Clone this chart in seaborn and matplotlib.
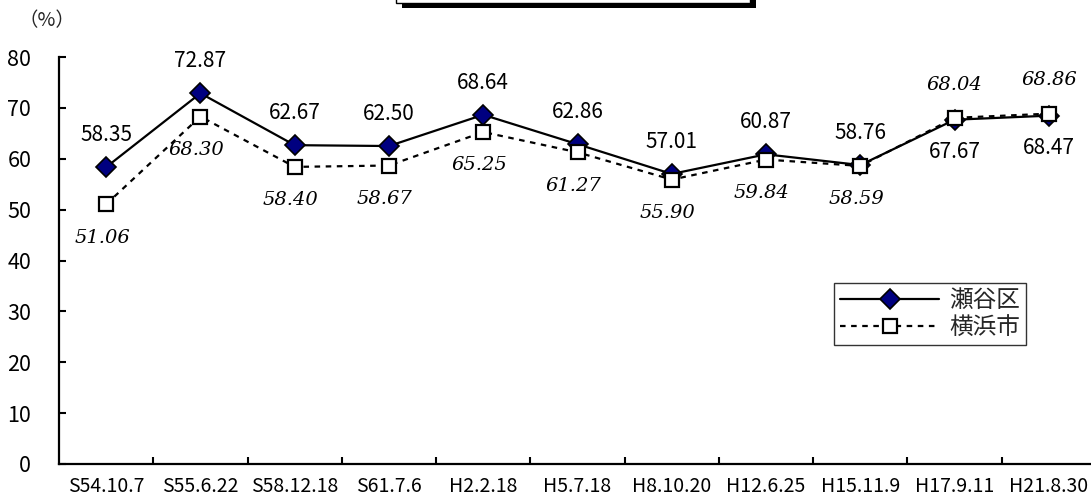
import numpy as np
import pandas as pd
import matplotlib
matplotlib.use("Agg")
import matplotlib.pyplot as plt
import seaborn as sns
from matplotlib.patches import Rectangle

# ---- data ----
categories = ["S54.10.7", "S55.6.22", "S58.12.18", "S61.7.6", "H2.2.18", "H5.7.18",
              "H8.10.20", "H12.6.25", "H15.11.9", "H17.9.11", "H21.8.30"]
seya = [58.35, 72.87, 62.67, 62.50, 68.64, 62.86, 57.01, 60.87, 58.76, 67.67, 68.47]
yokohama = [51.06, 68.30, 58.40, 58.67, 65.25, 61.27, 55.90, 59.84, 58.59, 68.04, 68.86]
series_names = ["瀬谷区", "横浜市"]
yticks = [0, 10, 20, 30, 40, 50, 60, 70, 80]
unit_label = "（%）"

# label placement (style): +1 above, -1 below
seya_side = [1, 1, 1, 1, 1, 1, 1, 1, 1, -1, -1]
yoko_side = [-1, -1, -1, -1, -1, -1, -1, -1, -1, 1, 1]

sns.set_theme(style="white")
plt.rcParams["font.family"] = ["Noto Sans CJK JP", "DejaVu Sans"]

W, H = 1091, 500
fig = plt.figure(figsize=(W / 100, H / 100), dpi=100)
ax = fig.add_axes([59 / W, 36 / H, 1037 / W, 407 / H])

x = np.arange(len(categories))
df = pd.DataFrame({"x": x, "seya": seya, "yoko": yokohama})

sns.lineplot(data=df, x="x", y="seya", ax=ax, color="black", lw=1.6,
             marker="D", markersize=10.5, markerfacecolor="#000080",
             markeredgecolor="black", markeredgewidth=1.2, label=series_names[0])
sns.lineplot(data=df, x="x", y="yoko", ax=ax, color="black", lw=1.6,
             linestyle=(0, (2.5, 2.5)), marker="s", markersize=10,
             markerfacecolor="white", markeredgecolor="black",
             markeredgewidth=1.6, label=series_names[1])

# data labels
for xi, v, s in zip(x, seya, seya_side):
    ax.annotate(f"{v:.2f}", (xi, v), xytext=(0, 23 * s), textcoords="offset points",
                ha="center", va="center", fontsize=15, color="black")
for xi, v, s in zip(x, yokohama, yoko_side):
    ax.annotate(f"{v:.2f}", (xi, v), xytext=(-3 if s < 0 else 0, 24 * s),
                textcoords="offset points", ha="center", va="center",
                fontsize=14, fontstyle="italic", family="DejaVu Serif", color="black")

ax.set_xlim(-0.5, len(categories) - 0.5)
ax.set_ylim(0, 80)
ax.set_yticks(yticks)
ax.set_yticklabels([str(t) for t in yticks])
ax.set_xticks(x)
ax.set_xticklabels(categories)
ax.set_xticks(np.arange(len(categories)) + 0.5, minor=True)
ax.set_xlabel("")
ax.set_ylabel("")

for side in ["top", "right"]:
    ax.spines[side].set_visible(False)
for side in ["left", "bottom"]:
    ax.spines[side].set_color("black")
    ax.spines[side].set_linewidth(1.6)

ax.tick_params(axis="y", which="major", direction="in", length=5, width=1.5,
               pad=20, labelsize=15.5, colors="black", left=True)
ax.tick_params(axis="x", which="major", length=0, pad=9, labelsize=14, colors="black")
ax.tick_params(axis="x", which="minor", direction="in", length=5, width=1.5,
               bottom=True, colors="black")
ax.grid(False)

fig.text(47 / W, 1 - 21 / H, unit_label, ha="center", va="center", fontsize=14)

# legend
leg = ax.legend(loc="center", bbox_to_anchor=(930 / W, 1 - 314 / H),
                bbox_transform=fig.transFigure, frameon=True, fancybox=False,
                edgecolor="black", fontsize=17, handlelength=4.2,
                borderpad=0.25, labelspacing=0.15, handletextpad=0.4,
                borderaxespad=0)
leg.get_frame().set_linewidth(1.0)
leg.get_texts()[1].set_fontstyle("italic")

# cut-off title box at top
fig.patches.append(Rectangle((402 / W, 1 - 7.5 / H), (756 - 402) / W, 20 / H,
                             transform=fig.transFigure, facecolor="black",
                             edgecolor="none", zorder=5))
fig.patches.append(Rectangle((396 / W, 1 - 2.5 / H), (750 - 396) / W, 20 / H,
                             transform=fig.transFigure, facecolor="white",
                             edgecolor="black", lw=1.0, zorder=6))

fig.savefig("out.png", dpi=100, facecolor="white")
